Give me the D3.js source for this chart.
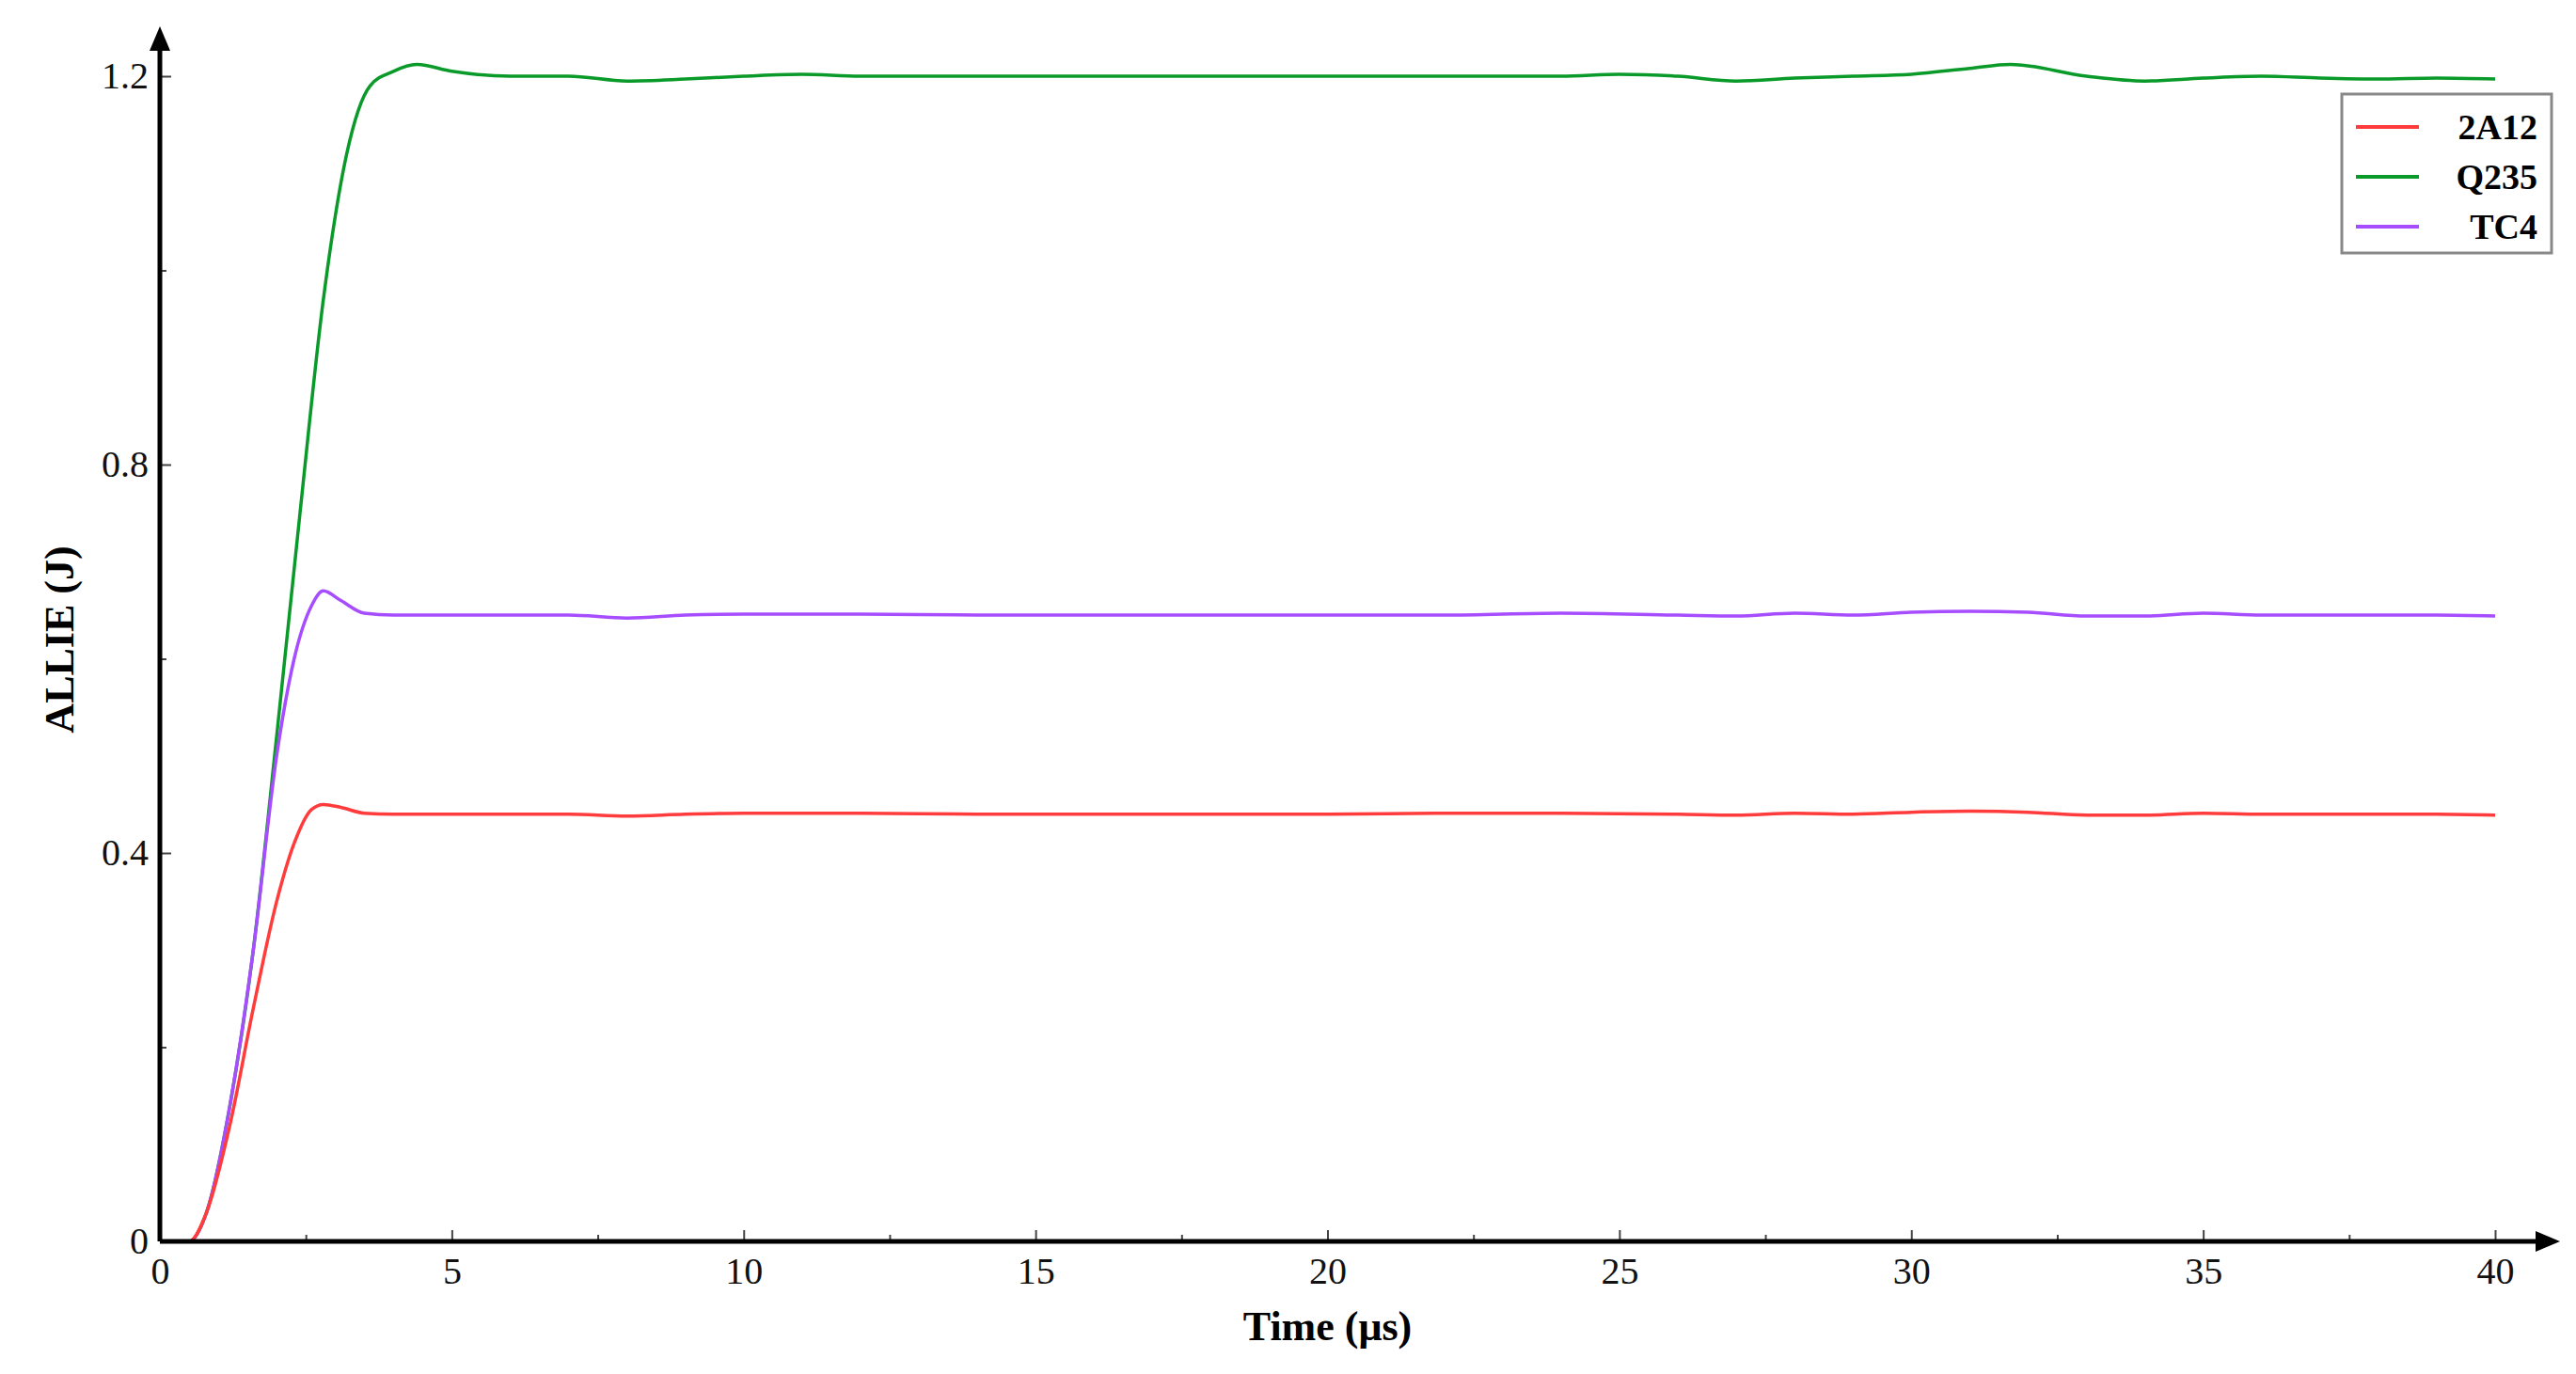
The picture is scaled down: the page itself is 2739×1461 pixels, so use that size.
<!DOCTYPE html>
<html><head><meta charset="utf-8">
<script src="https://cdn.jsdelivr.net/npm/d3@7"></script>
<style>body{margin:0;background:#fff}</style></head>
<body><svg id="c" width="2739" height="1461"></svg>
<script>
const seriesNames = ["2A12","Q235","TC4"];
const seriesColors = ["#ff3b3b","#0a9a2a","#a64dff"];
const timeA = [0,0.5,0.8,1.2,1.6,2.0,2.3,2.6,2.8,3.1,3.5,4,5,6,7,8,9,10,12,14,16,18,20,22,24,26,27,28,29,30,31,32,33,34,35,36,37,38,39,40];
const val2A12 = [0,0,0.03,0.12,0.24,0.35,0.41,0.445,0.45,0.447,0.441,0.44,0.44,0.44,0.44,0.438,0.44,0.441,0.441,0.44,0.44,0.44,0.44,0.441,0.441,0.44,0.439,0.441,0.44,0.442,0.443,0.442,0.439,0.439,0.441,0.44,0.44,0.44,0.44,0.439];
const valTC4  = [0,0,0.03,0.14,0.3,0.5,0.6,0.655,0.67,0.66,0.647,0.645,0.645,0.645,0.645,0.642,0.645,0.646,0.646,0.645,0.645,0.645,0.645,0.645,0.647,0.645,0.644,0.647,0.645,0.648,0.649,0.648,0.644,0.644,0.647,0.645,0.645,0.645,0.645,0.644];
const timeQ = [0,0.5,0.8,1.2,1.6,2.0,2.4,2.8,3.2,3.6,4.0,4.4,5,6,7,8,9,10,11,12,14,16,18,20,22,24,25,26,27,28,29,30,31,31.7,33,34,35,36,37,38,39,40];
const valQ235 = [0,0,0.03,0.14,0.3,0.52,0.75,0.97,1.12,1.19,1.205,1.212,1.205,1.2,1.2,1.195,1.197,1.2,1.202,1.2,1.2,1.2,1.2,1.2,1.2,1.2,1.202,1.2,1.195,1.198,1.2,1.202,1.208,1.212,1.2,1.195,1.198,1.2,1.198,1.197,1.198,1.197];
const xTicks = [0,5,10,15,20,25,30,35,40];
const yTicks = [0,0.4,0.8,1.2];

const svg = d3.select("#c");
const x = d3.scaleLinear().domain([0,40]).range([170,2653]);
const y = d3.scaleLinear().domain([0,1.2]).range([1320,81]);
const font = "'Liberation Serif','Times New Roman',serif";

const series = [
  {name:"2A12", t:timeA, v:val2A12, c:seriesColors[0]},
  {name:"Q235", t:timeQ, v:valQ235, c:seriesColors[1]},
  {name:"TC4", t:timeA, v:valTC4, c:seriesColors[2]}
];
const line = d3.line().x(d=>x(d[0])).y(d=>y(d[1])).curve(d3.curveMonotoneX);
// draw Q235 first, then TC4, then 2A12
[1,2,0].forEach(i=>{
  const s=series[i];
  svg.append("path").attr("d",line(s.t.map((t,j)=>[t,s.v[j]])))
    .attr("fill","none").attr("stroke",s.c).attr("stroke-width",3.5);
});

// axes
const xAxis = svg.append("g").attr("transform","translate(0,1320)")
  .call(d3.axisBottom(x).tickValues(d3.range(0,40.1,2.5)).tickSize(-8).tickFormat(d=>xTicks.includes(d)?d:""));
xAxis.selectAll(".tick line").attr("y2",d=>xTicks.includes(d)?-12:-7).attr("stroke","#444").attr("stroke-width",2);
xAxis.select(".domain").remove();
xAxis.selectAll("text").attr("font-family",font).attr("font-size",40).attr("dy","1.05em").attr("fill","#111");
const yAxis = svg.append("g").attr("transform","translate(170,0)")
  .call(d3.axisLeft(y).tickValues(d3.range(0,1.21,0.2).map(v=>+v.toFixed(1))).tickFormat(d=>yTicks.includes(d)?d:""));
yAxis.selectAll(".tick line").attr("x2",d=>yTicks.includes(d)?12:7).attr("stroke","#444").attr("stroke-width",2);
yAxis.select(".domain").remove();
yAxis.selectAll("text").attr("font-family",font).attr("font-size",40).attr("x",-12).attr("fill","#111");

svg.append("line").attr("x1",170).attr("x2",2700).attr("y1",1320).attr("y2",1320).attr("stroke","#000").attr("stroke-width",5);
svg.append("line").attr("x1",170).attr("x2",170).attr("y1",1320).attr("y2",45).attr("stroke","#000").attr("stroke-width",5);
svg.append("path").attr("d","M2722,1320 L2696,1309 L2696,1331 Z").attr("fill","#000");
svg.append("path").attr("d","M170,28 L159,54 L181,54 Z").attr("fill","#000");

svg.append("text").attr("x",(170+2653)/2).attr("y",1425).attr("text-anchor","middle")
  .attr("font-family",font).attr("font-weight","bold").attr("font-size",44).text("Time (μs)");
svg.append("text").attr("transform","translate(78,680) rotate(-90)").attr("text-anchor","middle")
  .attr("font-family",font).attr("font-weight","bold").attr("font-size",44).text("ALLIE (J)");

// legend
const lg = svg.append("g").attr("transform","translate(2490,100)");
lg.append("rect").attr("width",223).attr("height",169).attr("fill","#fff").attr("stroke","#888").attr("stroke-width",3);
series.forEach((s,i)=>{
  const yy = 35 + i*53;
  lg.append("line").attr("x1",15).attr("x2",82).attr("y1",yy).attr("y2",yy).attr("stroke",s.c).attr("stroke-width",4);
  lg.append("text").attr("x",208).attr("y",yy+13).attr("text-anchor","end")
    .attr("font-family",font).attr("font-weight","bold").attr("font-size",38).text(s.name);
});
</script></body></html>
